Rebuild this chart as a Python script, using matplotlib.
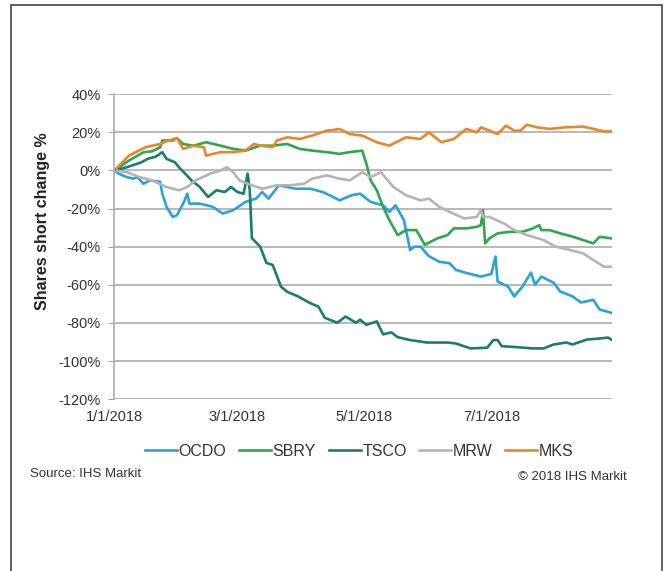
import pandas as pd
import matplotlib.pyplot as plt
from matplotlib.patches import Rectangle

plt.rcParams['font.family'] = ['Liberation Sans', 'DejaVu Sans']

# Shares short change (%), by day offset from 1 Jan 2018
start = pd.Timestamp("2018-01-01")

ocdo_days = [0, 2, 6, 9, 11, 14, 17, 22, 23, 25, 28, 30, 33, 35, 36, 41, 47, 52, 57, 63,
             68, 71, 74, 79, 83, 87, 94, 100, 105, 108, 114, 118, 123, 129, 132, 135, 139,
             142, 144, 147, 151, 156, 161, 164, 169, 176, 181, 183, 184, 189, 192, 196,
             200, 202, 205, 211, 214, 220, 224, 230, 233, 239]
ocdo_vals = [0, -1.7, -3.5, -4.3, -3.5, -7, -5.2, -6, -12.2, -19, -24.4, -23.5, -17.4, -12.2,
             -17.4, -17.4, -19, -22.6, -20.9, -16.5, -14.8, -11.3, -14.8, -7.8, -8.7, -9.6,
             -9.6, -11.3, -13.9, -15.7, -13, -12.2, -16.5, -18.3, -21.8, -18.3, -26, -41.8,
             -40, -40, -45, -47.9, -48.7, -52.2, -53.8, -55.7, -54.3, -45.2, -58.3, -60.9,
             -66.1, -60.9, -53.6, -60, -55.7, -59, -63.5, -66.1, -69.3, -67.9, -73, -74.8]

sbry_days = [0, 7, 14, 18, 22, 23, 28, 30, 33, 38, 44, 51, 57, 63, 70, 76, 83, 89, 95, 102,
             108, 113, 119, 121, 123, 126, 129, 132, 136, 140, 145, 149, 155, 160, 163, 169,
             174, 176, 177, 178, 180, 184, 190, 196, 201, 204, 205, 209, 214, 219, 225, 230,
             233, 239]
sbry_vals = [0, 5.2, 9.6, 10, 12.2, 15.7, 15.7, 17, 13.9, 13, 14.8, 13, 11.3, 10.4, 13, 13,
             13.9, 11.3, 10.4, 9.6, 8.7, 9.6, 10.4, 3.5, -5.2, -10.4, -19.1, -26, -33.9, -31.3,
             -31.3, -39, -35.7, -33.9, -30.4, -30.4, -29.6, -28.7, -20.9, -38.3, -35.7, -33,
             -32.2, -32.2, -30.4, -28.7, -31.3, -31.3, -33, -34.4, -36.5, -38.3, -34.8, -35.7]

tsco_days = [0, 6, 13, 16, 20, 23, 25, 29, 31, 34, 37, 41, 45, 49, 53, 56, 59, 62, 64, 65,
             66, 70, 73, 76, 80, 83, 88, 94, 98, 101, 107, 111, 116, 118, 121, 126, 129, 133,
             136, 142, 150, 160, 164, 171, 179, 182, 184, 186, 193, 201, 206, 211, 217, 220,
             227, 233, 237, 239]
tsco_vals = [0, 1.7, 4.3, 6.1, 7.3, 9.6, 6.1, 4.3, 1.7, -1.7, -5.2, -8.7, -13.9, -10.4, -11.3,
             -8.7, -11.3, -12.2, -1.7, -10.4, -35.5, -40, -48.5, -49.6, -61, -63.7, -66, -69.6,
             -71.5, -77.3, -79.9, -76.7, -79.9, -78.3, -81, -79.2, -86, -85, -87.5, -89, -90.3,
             -90.3, -90.8, -93.4, -93, -89, -89, -92.2, -92.7, -93.4, -93.4, -91.3, -90.3,
             -91.3, -88.7, -88.2, -87.7, -89]

mrw_days = [0, 6, 12, 18, 25, 31, 35, 39, 46, 51, 54, 57, 60, 64, 71, 78, 84, 91, 95, 102,
            108, 113, 119, 123, 128, 134, 140, 147, 151, 156, 161, 168, 174, 176, 177, 180,
            187, 192, 198, 206, 212, 219, 225, 230, 235, 239]
mrw_vals = [0, -0.9, -3.5, -5.2, -8.7, -10.4, -8.7, -5.2, -1.7, 0, 1.7, -0.9, -5.2, -7, -9.6,
            -7.8, -7.8, -7, -4.3, -2.6, -4.3, -5.2, -0.9, -3.5, -0.9, -8.7, -13, -15.7, -14.8,
            -19.1, -21.8, -25.2, -24.4, -20.9, -24.4, -24.4, -27.8, -31.3, -33.9, -36.5, -40,
            -41.8, -43.5, -47, -50.5, -50.5]

mks_days = [0, 7, 15, 22, 26, 30, 33, 38, 43, 44, 51, 57, 63, 67, 70, 76, 78, 83, 89, 95,
            102, 105, 108, 113, 119, 126, 132, 140, 147, 151, 157, 163, 169, 174, 176, 180,
            184, 188, 192, 195, 198, 203, 209, 216, 225, 230, 235, 239]
mks_vals = [0, 7.8, 12.2, 13.9, 15.7, 17, 11.3, 13, 12.2, 7.8, 9.6, 9.6, 10.4, 13.9, 13, 12.2,
            15.7, 17.4, 16.5, 18.3, 20.9, 21.2, 21.8, 19.1, 18.3, 14.8, 13, 17.4, 16.5, 20,
            14.8, 16.5, 21.8, 20, 22.6, 20.9, 19.1, 23.5, 20.9, 20.9, 24, 22.6, 21.8, 22.6, 23,
            21.8, 20.5, 20.5]

series = [
    ("OCDO", ocdo_days, ocdo_vals, "#2aa3dc"),
    ("SBRY", sbry_days, sbry_vals, "#2ea84b"),
    ("TSCO", tsco_days, tsco_vals, "#1b7d70"),
    ("MRW", mrw_days, mrw_vals, "#b5b5b5"),
    ("MKS", mks_days, mks_vals, "#e8872a"),
]
tick_labels = ["1/1/2018", "3/1/2018", "5/1/2018", "7/1/2018"]

fig = plt.figure(figsize=(6.69, 5.71), dpi=100)
ax = fig.add_axes([0.171, 0.301, 0.744, 0.534])

for name, days, vals, color in series:
    dates = start + pd.to_timedelta(days, unit="D")
    ax.plot(dates, vals, color=color, lw=1.9, label=name)

ax.set_ylim(-120, 40)
ax.set_yticks(range(-120, 41, 20))
ax.set_yticklabels([f"{v}%" for v in range(-120, 41, 20)])
ax.set_xlim(start, start + pd.Timedelta(days=239))
ax.set_xticks(pd.to_datetime(tick_labels, format="%m/%d/%Y"))
ax.set_xticklabels(tick_labels)

ax.grid(axis="y", color="#a6a6a6", lw=1.1)
ax.set_axisbelow(True)
for s in ["top", "right", "bottom"]:
    ax.spines[s].set_visible(False)
ax.spines["left"].set_color("#a6a6a6")
ax.spines["left"].set_linewidth(1.1)
ax.tick_params(axis="y", length=4, color="#a6a6a6", labelsize=10.5, labelcolor="#333333", pad=6)
ax.tick_params(axis="x", length=0, labelsize=10.5, labelcolor="#333333", pad=8)

fig.text(0.064, 0.613, "Shares short change %", rotation=90, ha="center", va="center",
         fontsize=11.5, fontweight="bold", color="#222222")

fig.legend(loc="center", bbox_to_anchor=(0.537, 0.21), ncol=5, frameon=False,
           fontsize=11.5, handlelength=2.0, handletextpad=0.1, columnspacing=0.8,
           labelcolor="#333333")

fig.text(0.045, 0.17, "Source: IHS Markit", fontsize=9.5, color="#333333", va="center")
fig.text(0.937, 0.165, "\u00a9 2018 IHS Markit", fontsize=9.5, color="#333333",
         va="center", ha="right")

# outer frame
fig.add_artist(Rectangle((11 / 669, -0.01), 651 / 669, 1 - 5 / 571 + 0.01,
                         transform=fig.transFigure, fill=False, ec="#444444", lw=1.2))

fig.savefig("out.png", dpi=100)
